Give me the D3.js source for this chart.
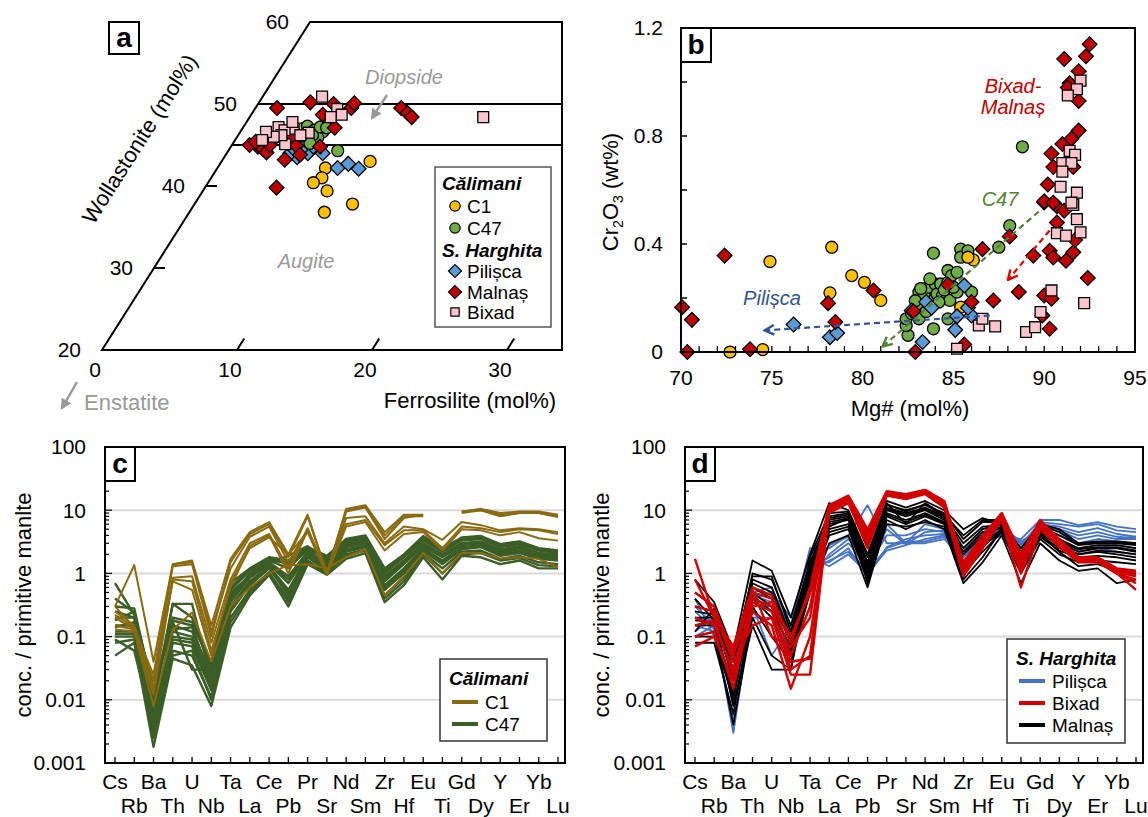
<!DOCTYPE html>
<html>
<head>
<meta charset="utf-8">
<script src="https://cdn.jsdelivr.net/npm/d3@7"></script>
<style>
body { margin: 0; background: #fff; }
text { font-family: "Liberation Sans", Arial, Helvetica, sans-serif; }
</style>
</head>
<body>
<script>
// ---------- data ----------
// panel a: pyroxene quadrilateral, [Fs, Wo] in mol%
var aC1 = [[11.0,43.0],[8.0,42.2],[8.2,41.0],[7.8,40.4],[9.2,39.4],[11.7,37.8],[10.0,36.8],[4.5,47.0],[5.8,45.3]];
var aC47 = [[6.1,46.6],[8.1,44.3],[4.7,47.3],[5.4,46.8],[6.0,45.9],[5.5,46.2],[4.8,46.1],[5.7,47.2],[6.2,47.1],[5.7,45.2]];
var aPil = [[5.4,45.1],[5.4,43.5],[6.0,44.0],[7.1,44.0],[8.9,42.2],[9.5,42.7],[10.5,42.1],[4.7,44.0],[5.3,44.4],[4.7,44.6],[6.1,44.8]];
var aMal = [[1.6,49.5],[3.8,50.2],[5.3,48.7],[5.6,50.0],[7.1,49.5],[7.1,50.1],[10.8,49.5],[11.5,48.9],[12.0,48.4],[6.8,47.1],
  [6.6,44.8],[4.6,43.2],[2.0,44.8],[2.4,44.6],[2.9,44.1],[5.3,39.8],[2.8,45.6],[1.3,45.0],[1.6,45.4],[2.8,45.0],[4.0,45.9],[4.8,44.9],[5.5,43.8]];
var aBix = [[4.4,50.9],[6.1,49.4],[6.7,48.7],[6.0,48.4],[3.8,47.0],[5.1,46.5],[3.9,45.1],[17.3,48.4],[2.6,47.2],[3.2,46.8],
  [3.2,46.2],[2.7,46.0],[1.9,46.6],[4.6,46.2],[2.0,45.6],[3.4,47.8]];

// panel b: [Mg#, Cr2O3]
var bC1 = [[72.7,0],[74.5,0.009],[74.9,0.335],[78.3,0.388],[78.2,0.219],[79.4,0.283],[80.1,0.258],[81.0,0.191],[85.4,0.166],[86.1,0.341],[85.8,0.351]];
var bC47 = [[82.5,0.062],[82.4,0.098],[82.4,0.123],[82.7,0.142],[83.1,0.123],[83.3,0.166],[83.1,0.222],[83.4,0.209],[83.6,0.24],[83.9,0.191],
  [84.0,0.252],[83.9,0.366],[83.9,0.086],[84.1,0.215],[84.3,0.252],[84.4,0.209],[84.7,0.258],[84.7,0.302],[84.8,0.191],[84.9,0.283],
  [85.2,0.295],[85.2,0.222],[84.7,0.123],[85.4,0.381],[85.4,0.351],[85.8,0.375],[86.0,0.222],[87.5,0.388],[88.1,0.468],[83.7,0.271],
  [88.8,0.76],[83.2,0.235],[84.5,0.23],[85.0,0.24],[84.2,0.185],[83.5,0.15],[82.9,0.19]];
var bPil = [[76.2,0.102],[78.2,0.055],[78.6,0.07],[83.3,0.037],[82.7,0.154],[83.5,0.185],[83.8,0.164],[85.2,0.132],[85.1,0.082],[85.6,0.246],[86.0,0.135],[85.8,0.164]];
var bMal = [[70.06,0.166],[70.6,0.119],[70.35,0],[72.4,0.357],[73.8,0.01],[78.1,0.181],[78.5,0.111],[80.6,0.228],[82.9,0],[82.8,0.151],
  [84.7,0.25],[86.0,0.185],[85.6,0.028],[86.6,0.381],[87.2,0.191],[88.1,0.428],[88.6,0.222],[89.4,0.357],[90.0,0.209],[89.9,0.135],
  [90.4,0.197],[90.3,0.086],[90.3,0.375],[90.5,0.35],[91.2,0.338],[91.6,0.369],[91.7,0.415],[92.4,0.274],[90.0,0.554],[90.7,0.54],
  [91.1,0.523],[90.7,0.48],[92.5,1.14],[92.3,1.095],[91.1,1.085],[91.9,1.04],[91.4,0.995],[91.3,0.98],[91.9,0.93],[91.9,0.82],
  [91.0,0.77],[91.5,0.79],[90.4,0.735],[90.5,0.685],[91.6,0.685],[90.2,0.62],[90.0,0.558],[90.5,0.553]];
var bBix = [[85.2,0.012],[86.4,0.098],[86.6,0.123],[87.3,0.095],[89.0,0.074],[89.5,0.092],[89.8,0.148],[90.4,0.228],[92.2,0.181],[90.7,0.44],
  [91.2,0.431],[92.0,0.443],[91.8,0.492],[91.6,0.545],[92.0,1.005],[91.8,0.973],[91.3,0.95],[91.4,0.745],[91.7,0.73],[91.0,0.7],
  [91.5,0.7],[91.0,0.668],[90.9,0.612],[91.8,0.59],[91.5,0.553]];

// panels c, d: primitive-mantle normalised trace elements
var elements = ["Cs","Rb","Ba","Th","U","Nb","Ta","La","Ce","Pb","Pr","Sr","Nd","Sm","Zr","Hf","Eu","Ti","Gd","Dy","Y","Er","Yb","Lu"];
var logTicks = [0.001, 0.01, 0.1, 1, 10, 100];

var c1 = [
  [0.3,1.35,0.04,1.4,1.6,0.15,1.7,4.5,6.5,2.0,8.5,1.0,10.5,12,4.5,8.5,8.5,null,9.5,10.5,9,9.5,9.5,8.5],
  [0.25,0.15,0.02,1.4,1.5,0.12,1.2,3.8,5.5,1.5,5.0,1.0,9.5,11,3.5,7.5,8.5,null,9.5,10,8,9,9,8],
  [0.15,0.13,0.025,1.3,1.4,0.1,1.5,4.2,6.0,1.8,8.0,1.0,9.8,11.5,4.0,8.0,8.0,null,9.0,10,8.5,9,9,7.8],
  [0.22,0.14,0.015,0.85,0.9,0.08,0.8,3.0,4.2,1.2,5.2,1.0,7.5,8,3.0,5.5,5.0,3.4,6.5,5.8,4.8,5.2,5.0,4.5],
  [0.2,0.13,0.012,0.8,0.75,0.06,0.6,2.7,4.0,1.0,4.8,1.0,6,7,2.8,4.8,4.8,2.5,5.5,5.2,4.5,5,4.8,4.2],
  [0.3,0.14,0.02,0.75,0.55,0.05,0.7,2.5,3.7,2.0,4.5,0.95,5.5,6.5,2.3,4.2,4.5,2.3,5,4.8,4.0,4.5,3.6,3.3],
  [0.13,0.12,0.008,0.13,0.24,0.04,0.3,0.6,1.0,1.35,1.4,1.2,1.8,2.4,0.45,0.9,2.1,1.0,2.1,2.1,1.7,1.8,1.7,1.25]
];
var c47 = [
  [0.7,0.22,0.008,0.33,0.2,0.03,0.7,1.2,1.8,1.6,2.6,1.9,3.5,4.0,1.2,2.0,3.9,2.5,3.7,3.9,2.9,3.2,2.5,2.3],
  [0.3,0.28,0.012,0.18,0.15,0.04,0.55,1.1,1.6,1.2,2.4,1.7,3.1,3.6,1.0,1.8,3.3,2.2,3.3,3.5,2.6,2.9,2.3,2.1],
  [0.2,0.2,0.006,0.15,0.12,0.025,0.45,0.95,1.5,0.9,2.2,1.5,2.9,3.3,0.9,1.6,3.0,2.0,3.0,3.2,2.4,2.7,2.1,2.0],
  [0.15,0.15,0.005,0.12,0.1,0.02,0.35,0.85,1.4,0.7,2.0,1.3,2.6,3.0,0.75,1.4,2.7,1.8,2.8,3.0,2.2,2.5,2.0,1.9],
  [0.12,0.12,0.004,0.1,0.09,0.018,0.3,0.75,1.3,0.55,1.9,1.2,2.4,2.8,0.65,1.2,2.5,1.6,2.6,2.8,2.1,2.3,1.9,1.8],
  [0.1,0.1,0.003,0.08,0.07,0.014,0.25,0.65,1.2,0.45,1.8,1.1,2.2,2.6,0.55,1.0,2.3,1.4,2.4,2.6,1.9,2.1,1.7,1.6],
  [0.08,0.09,0.0025,0.06,0.05,0.011,0.2,0.55,1.05,0.35,1.6,1.0,2.0,2.4,0.45,0.85,2.1,1.2,2.2,2.3,1.7,1.9,1.5,1.4],
  [0.05,0.08,0.0018,0.045,0.035,0.008,0.14,0.45,0.95,0.3,1.4,0.95,1.7,2.1,0.35,0.65,1.8,0.8,1.9,1.8,1.4,1.6,1.2,1.2],
  [0.18,0.25,0.01,0.33,0.33,0.02,0.4,1.0,1.6,1.5,2.3,1.8,3.3,3.8,1.1,1.9,3.5,2.3,3.5,3.7,2.8,3.0,2.4,2.2],
  [0.25,0.2,0.015,0.17,0.03,0.03,0.5,0.9,1.5,1.9,2.7,1.6,3.0,3.5,0.8,1.5,2.8,1.9,2.9,3.1,2.3,2.6,2.0,1.9],
  [0.09,0.06,0.0035,0.05,0.06,0.01,0.17,0.5,1.0,0.4,1.5,1.05,1.9,2.3,0.4,0.75,2.0,1.0,2.0,2.1,1.6,1.75,1.35,1.3],
  [0.14,0.17,0.007,0.13,0.14,0.022,0.4,0.9,1.45,0.8,2.1,1.4,2.75,3.15,0.85,1.5,2.85,1.9,2.9,3.1,2.3,2.6,2.05,1.95],
  [0.11,0.11,0.0045,0.09,0.08,0.016,0.28,0.7,1.25,0.5,1.85,1.15,2.3,2.7,0.6,1.1,2.4,1.5,2.5,2.7,2.0,2.2,1.8,1.7],
  [0.4,0.24,0.015,0.2,0.17,0.035,0.6,1.15,1.7,1.4,2.5,1.8,3.3,3.8,1.1,1.9,3.6,2.4,3.5,3.7,2.75,3.05,2.4,2.2]
];
var pil = [
  [0.3,0.15,0.003,0.3,0.05,0.15,2.5,2.5,4,12,3,3,3,3.5,1.6,3,4,3.5,7,7,5.8,6.5,5.5,5],
  [0.15,0.12,0.005,0.4,0.5,0.2,1.8,1.3,2,1.0,2.3,2.8,3.5,4,1.8,3.5,4.5,2.5,6,5.5,4.5,5.2,4.2,3.8],
  [0.12,0.2,0.008,0.5,0.6,0.12,1.5,1.5,2.5,0.9,2.6,3.5,4,4.2,2.0,4,5,3.0,5.5,4.8,3.5,4.0,3.5,3.5],
  [0.2,0.18,0.01,0.3,0.3,0.05,1.2,1.8,3,1.3,4,4,5,4.5,2.2,4.5,5.5,3.2,5,4,3,3.5,3.2,3],
  [0.4,0.1,0.02,0.6,0.4,0.1,0.8,2,3.5,1.5,6,3,6,5,2.5,5,6,2.8,6.5,6,5.5,6,4.8,4.5],
  [0.1,0.15,0.04,0.2,0.2,0.04,0.6,2.8,3.8,1.2,5,2.9,4.5,4.8,1.5,3.5,4,2.0,5.2,3.5,2.2,2.5,2.2,2.0],
  [0.25,0.13,0.015,0.45,0.35,0.08,1.0,1.6,2.2,1.1,2.5,3.2,3.2,3.8,1.9,3.8,4.8,2.6,5.8,5.0,4.0,4.5,3.8,3.6]
];
var mal = [
  [0.8,0.35,0.06,1.6,1.1,0.2,2.0,13,10,2.0,14,11,14,10,5,7.5,6,2.5,6,5,3,3.2,3.2,3],
  [0.5,0.3,0.04,1.0,0.8,0.15,1.5,8,9,1.5,12,10,12,9,3.5,6.5,6.5,2.0,5.5,4,2.8,3,3,2.8],
  [0.3,0.25,0.03,0.8,0.6,0.1,1.2,7,8,1.2,11,9,11,8,2.5,5,6,1.8,5,3.5,2.5,2.8,2.8,2.5],
  [0.2,0.2,0.02,0.6,0.4,0.08,1.0,6,7,1.0,10,8,10,7,2.0,4,5.5,1.5,4.5,3,2.2,2.5,2.5,2.2],
  [0.15,0.15,0.015,0.5,0.3,0.06,0.8,5,6,0.9,9,7,9,6.5,1.5,3,5,1.2,4,2.5,2,2.2,2.0,1.8],
  [0.1,0.1,0.01,0.4,0.2,0.05,0.6,4,5,0.8,8,6,8,6,1.0,2.2,4.5,1.0,3.5,2,1.5,1.6,1.5,1.4],
  [0.08,0.08,0.006,0.3,0.1,0.04,0.5,3,4,0.6,7,5,7,5,0.7,1.5,4,0.7,3,1.6,1.1,1.2,0.7,0.8],
  [0.1,0.12,0.004,0.2,0.05,0.03,0.9,5.5,7.5,0.7,6,5.5,6.5,5.5,0.8,1.8,5,1.4,4.2,2.2,1.3,1.4,1.1,1.0],
  [0.4,0.18,0.008,0.15,0.03,0.03,1.8,9,9.5,1.8,13,6,13,8.5,4,7,7,2.2,5.8,4.5,2.9,3.1,3.1,2.9],
  [0.12,0.28,0.05,0.9,0.9,0.12,1.3,7.5,8.5,1.4,12.5,9.5,12.5,8,3,5.5,5.8,1.6,4.8,3.2,2.4,2.6,2.6,2.3],
  [0.25,0.22,0.025,0.7,0.5,0.09,1.1,6.5,7.5,1.1,10.5,8.5,10.5,7.5,2.2,4.5,5.2,1.3,4.3,2.8,2.0,2.3,2.2,2.0],
  [0.18,0.17,0.012,0.45,0.25,0.07,0.7,4.5,5.5,0.85,8.5,6.5,8.5,6.2,1.2,2.6,4.8,1.1,3.8,2.3,1.8,1.9,1.8,1.6]
];
var bix = [
  [1.7,0.2,0.07,0.6,0.45,0.08,0.6,12,17,5,20,18,21,14,1.5,4,9,2.0,7,3.5,1.8,1.8,1.2,1.1],
  [0.5,0.3,0.05,0.5,0.4,0.05,0.3,11,16,4,19,17,20,13,1.3,3.5,8.5,1.5,6.5,3.2,1.7,1.7,1.1,1.0],
  [0.2,0.15,0.03,0.4,0.3,0.03,0.05,10,15,3,18,16,19,12,1.1,3,8,1.2,6,3,1.6,1.6,1.05,0.9],
  [0.07,0.1,0.02,0.25,0.15,0.015,0.1,9,13,2.5,17,15,18,11,0.9,2.5,7,0.6,5,2.6,1.5,1.5,1.0,0.55],
  [0.3,0.25,0.04,0.15,0.2,0.025,0.025,10.5,14,3.5,18.5,16.5,19.5,12.5,1.0,2.8,7.5,1.0,5.8,2.8,1.55,1.55,1.0,0.8],
  [0.1,0.12,0.015,0.35,0.25,0.04,0.045,9.5,14.5,2.8,17.5,15.5,18.5,11.5,1.2,3.2,8.2,1.4,6.2,3.1,1.65,1.65,1.1,0.95],
  [0.8,0.2,0.06,0.55,0.1,0.07,0.2,11.5,16.5,4.5,19.5,17.5,20.5,13.5,1.4,3.8,8.8,1.8,6.8,3.3,1.75,1.75,1.15,1.05],
  [0.15,0.18,0.025,0.3,0.35,0.1,0.5,10,15.5,3.2,18,16,19,12,1.2,3.1,7.8,1.1,5.5,2.9,1.6,1.6,1.0,0.7]
];

// ---------- setup ----------
var cYel = "#FFC000", cGrn = "#70AD47", cBlu = "#5B9BD5", cRed = "#C00000", cPnk = "#FAC5CB";
var fsTick = 21, fsTitle = 22, fsLeg = 19;
var svg = d3.select("body").append("svg").attr("width", 1148).attr("height", 817);

var defs = svg.append("defs");
function openHead(id, col) {
  defs.append("marker").attr("id", id).attr("viewBox", "0 0 10 10").attr("refX", 9).attr("refY", 5)
    .attr("markerWidth", 12).attr("markerHeight", 12).attr("markerUnits", "userSpaceOnUse").attr("orient", "auto")
    .append("path").attr("d", "M1,1 L9,5 L1,9").attr("fill", "none").attr("stroke", col).attr("stroke-width", 2);
}
openHead("hBlu", "#2F5597"); openHead("hGrn", "#548235"); openHead("hRed", "#E00000");
defs.append("marker").attr("id", "hGray").attr("viewBox", "0 0 10 10").attr("refX", 8).attr("refY", 5)
  .attr("markerWidth", 11).attr("markerHeight", 11).attr("markerUnits", "userSpaceOnUse").attr("orient", "auto")
  .append("path").attr("d", "M0,0 L10,5 L0,10 Z").attr("fill", "#999");

var sym = {
  circle: d3.symbol().type(d3.symbolCircle).size(112)(),
  diamond: d3.symbol().type(d3.symbolSquare).size(108)(),
  square: d3.symbol().type(d3.symbolSquare).size(118)()
};
function points(g, data, shape, fill, proj) {
  g.selectAll(null).data(data).enter().append("path")
    .attr("d", sym[shape])
    .attr("transform", function(d) {
      var p = proj(d);
      return "translate(" + p[0] + "," + p[1] + ")" + (shape == "diamond" ? " rotate(45)" : "");
    })
    .attr("fill", fill).attr("stroke", "#000").attr("stroke-width", 1.3);
}
function letterBox(g, x, y, w, h, t) {
  g.append("rect").attr("x", x).attr("y", y).attr("width", w).attr("height", h)
    .attr("fill", "#fff").attr("stroke", "#000").attr("stroke-width", 2);
  g.append("text").attr("x", x + w / 2).attr("y", y + h / 2 + 9).attr("text-anchor", "middle")
    .attr("font-size", 28).attr("font-weight", "bold").text(t);
}

// ---------- panel a ----------
var ga = svg.append("g");
var woY = d3.scaleLinear().domain([20, 60]).range([350, 22]);
var woShift = d3.scaleLinear().domain([20, 60]).range([0, 208]);
var fsX = d3.scaleLinear().domain([0, 30]).range([102, 507]);
var aRight = 562;
function tern(d) { return [fsX(d[0]) + woShift(d[1]), woY(d[1])]; }

var c0 = tern([0, 20]), c1p = tern([0, 60]);
ga.append("path").attr("d", "M" + c0 + "L" + c1p + "L" + aRight + "," + woY(60) + "L" + aRight + "," + woY(20) + "Z")
  .attr("fill", "none").attr("stroke", "#000").attr("stroke-width", 2);
[45, 50].forEach(function(w) {
  ga.append("line").attr("x1", tern([0, w])[0]).attr("y1", woY(w)).attr("x2", aRight).attr("y2", woY(w))
    .attr("stroke", "#000").attr("stroke-width", 1.8);
});
[30, 40].forEach(function(w) {
  ga.append("line").attr("x1", tern([0, w])[0]).attr("y1", woY(w)).attr("x2", tern([0, w])[0] + 11).attr("y2", woY(w))
    .attr("stroke", "#000").attr("stroke-width", 2);
});
[20, 30, 40, 50, 60].forEach(function(w) {
  ga.append("text").attr("x", tern([0, w])[0] - 21).attr("y", woY(w)).attr("dy", "0.35em")
    .attr("text-anchor", "end").attr("font-size", fsTick).text(w);
});
[10, 20, 30].forEach(function(f) {
  var p0 = tern([f, 20]), p1 = tern([f, 21.4]);
  ga.append("line").attr("x1", p0[0]).attr("y1", p0[1]).attr("x2", p1[0]).attr("y2", p1[1])
    .attr("stroke", "#000").attr("stroke-width", 2);
});
[0, 10, 20, 30].forEach(function(f) {
  ga.append("text").attr("x", tern([f, 20])[0] - 7).attr("y", 370).attr("dy", "0.35em")
    .attr("text-anchor", "middle").attr("font-size", fsTick).text(f);
});
ga.append("text").attr("transform", "translate(146,143) rotate(-57.6)").attr("text-anchor", "middle")
  .attr("font-size", fsTitle).text("Wollastonite (mol%)");
ga.append("text").attr("x", 470).attr("y", 400).attr("dy", "0.35em").attr("text-anchor", "middle")
  .attr("font-size", fsTitle).text("Ferrosilite (mol%)");
ga.append("text").attr("x", 84).attr("y", 402).attr("dy", "0.35em").attr("font-size", fsTitle).attr("fill", "#999").text("Enstatite");
ga.append("line").attr("x1", 77).attr("y1", 382).attr("x2", 62).attr("y2", 408)
  .attr("stroke", "#999").attr("stroke-width", 2.5).attr("marker-end", "url(#hGray)");
ga.append("text").attr("x", 404).attr("y", 77).attr("dy", "0.35em").attr("text-anchor", "middle")
  .attr("font-size", 20).attr("font-style", "italic").attr("fill", "#999").text("Diopside");
ga.append("line").attr("x1", 387).attr("y1", 95).attr("x2", 372).attr("y2", 118)
  .attr("stroke", "#999").attr("stroke-width", 2.5).attr("marker-end", "url(#hGray)");
ga.append("text").attr("x", 306).attr("y", 261).attr("dy", "0.35em").attr("text-anchor", "middle")
  .attr("font-size", 20).attr("font-style", "italic").attr("fill", "#999").text("Augite");

points(ga, aC1, "circle", cYel, tern);
points(ga, aPil, "diamond", cBlu, tern);
points(ga, aC47, "circle", cGrn, tern);
points(ga, aMal, "diamond", cRed, tern);
points(ga, aBix, "square", cPnk, tern);

letterBox(ga, 109, 22, 30, 32, "a");

// legend a
var la = ga.append("g");
la.append("rect").attr("x", 435).attr("y", 167).attr("width", 116).attr("height", 160)
  .attr("fill", "#fff").attr("stroke", "#555").attr("stroke-width", 1.5);
var legA = [
  {t: "C\u0103limani", y: 183, title: true},
  {t: "C1", y: 206, shape: "circle", fill: cYel},
  {t: "C47", y: 228, shape: "circle", fill: cGrn},
  {t: "S. Harghita", y: 250, title: true},
  {t: "Pili\u0219ca", y: 271, shape: "diamond", fill: cBlu},
  {t: "Malna\u0219", y: 292, shape: "diamond", fill: cRed},
  {t: "Bixad", y: 312, shape: "square", fill: cPnk}
];
legA.forEach(function(d) {
  if (d.title) {
    la.append("text").attr("x", 442).attr("y", d.y).attr("dy", "0.35em").attr("font-size", fsLeg)
      .attr("font-weight", "bold").attr("font-style", "italic").text(d.t);
  } else {
    la.append("path").attr("d", d3.symbol().type(d.shape == "circle" ? d3.symbolCircle : d3.symbolSquare)
        .size(d.shape == "square" ? 70 : 85)())
      .attr("transform", "translate(455," + d.y + ")" + (d.shape == "diamond" ? " rotate(45)" : ""))
      .attr("fill", d.fill).attr("stroke", "#000").attr("stroke-width", 1.2);
    la.append("text").attr("x", 467).attr("y", d.y).attr("dy", "0.35em").attr("font-size", fsLeg).text(d.t);
  }
});

// ---------- panel b ----------
var gb = svg.append("g");
var xB = d3.scaleLinear().domain([70, 95]).range([681, 1135]);
var yB = d3.scaleLinear().domain([0, 1.2]).range([352, 28]);
function pb(d) { return [xB(d[0]), yB(d[1])]; }

d3.range(0, 1.21, 0.2).forEach(function(v) {
  gb.append("line").attr("x1", 681).attr("x2", 687).attr("y1", yB(v)).attr("y2", yB(v)).attr("stroke", "#000").attr("stroke-width", 1.5);
});
[0, 0.4, 0.8, 1.2].forEach(function(v) {
  gb.append("text").attr("x", 663).attr("y", yB(v)).attr("dy", "0.35em").attr("text-anchor", "end")
    .attr("font-size", fsTick).text(v == 0 ? "0" : v.toFixed(1));
});
d3.range(70, 96, 1).forEach(function(v) {
  gb.append("line").attr("x1", xB(v)).attr("x2", xB(v)).attr("y1", 352).attr("y2", 346).attr("stroke", "#000").attr("stroke-width", 1.3);
});
[70, 75, 80, 85, 90, 95].forEach(function(v) {
  gb.append("text").attr("x", xB(v)).attr("y", 378).attr("dy", "0.35em").attr("text-anchor", "middle")
    .attr("font-size", fsTick).text(v);
});
gb.append("text").attr("x", 910).attr("y", 408).attr("dy", "0.35em").attr("text-anchor", "middle")
  .attr("font-size", fsTitle).text("Mg# (mol%)");
var yl = gb.append("text").attr("transform", "translate(618,192) rotate(-90)").attr("text-anchor", "middle").attr("font-size", fsTitle);
yl.append("tspan").text("Cr");
yl.append("tspan").attr("font-size", 14).attr("dy", 5).text("2");
yl.append("tspan").attr("dy", -5).text("O");
yl.append("tspan").attr("font-size", 14).attr("dy", 5).text("3");
yl.append("tspan").attr("dy", -5).text(" (wt%)");

// trend arrows
function arrow(a, b, col, head) {
  gb.append("line").attr("x1", xB(a[0])).attr("y1", yB(a[1])).attr("x2", xB(b[0])).attr("y2", yB(b[1]))
    .attr("stroke", col).attr("stroke-width", 2.2).attr("stroke-dasharray", "6,4").attr("marker-end", "url(#" + head + ")");
}

points(gb, bC47, "circle", cGrn, pb);
points(gb, bC1, "circle", cYel, pb);
points(gb, bPil, "diamond", cBlu, pb);
points(gb, bMal, "diamond", cRed, pb);
points(gb, bBix, "square", cPnk, pb);

arrow([87.0, 0.135], [74.6, 0.08], "#2F5597", "hBlu");
arrow([89.7, 0.52], [81.1, 0.02], "#548235", "hGrn");
arrow([90.3, 0.45], [88.0, 0.267], "#E00000", "hRed");

gb.append("text").attr("x", 772).attr("y", 298).attr("dy", "0.35em").attr("text-anchor", "middle")
  .attr("font-size", 20).attr("font-style", "italic").attr("fill", "#2F5597").text("Pili\u0219ca");
gb.append("text").attr("x", 1000).attr("y", 199).attr("dy", "0.35em").attr("text-anchor", "middle")
  .attr("font-size", 20).attr("font-style", "italic").attr("fill", "#548235").text("C47");
gb.append("text").attr("x", 1013).attr("y", 86).attr("dy", "0.35em").attr("text-anchor", "middle")
  .attr("font-size", 20).attr("font-style", "italic").attr("fill", cRed).text("Bixad-");
gb.append("text").attr("x", 1013).attr("y", 107).attr("dy", "0.35em").attr("text-anchor", "middle")
  .attr("font-size", 20).attr("font-style", "italic").attr("fill", cRed).text("Malna\u0219");

gb.append("rect").attr("x", 681).attr("y", 28).attr("width", 454).attr("height", 324)
  .attr("fill", "none").attr("stroke", "#000").attr("stroke-width", 2);
letterBox(gb, 681, 28, 30, 34, "b");

// ---------- panels c, d ----------
var ySp = d3.scaleLog().domain([0.001, 100]).range([763, 447]);

function spider(left, right, letter, ylab, ylabX, groups, legend) {
  var g = svg.append("g");
  var x = d3.scalePoint().domain(elements).range([left + 10, right - 7]);
  [0.01, 0.1, 1, 10].forEach(function(v) {
    g.append("line").attr("x1", left).attr("x2", right).attr("y1", ySp(v)).attr("y2", ySp(v))
      .attr("stroke", "#D9D9D9").attr("stroke-width", 2);
  });
  var line = d3.line().defined(function(d) { return d != null; })
    .x(function(d, i) { return x(elements[i]); }).y(function(d) { return ySp(d); });
  groups.forEach(function(gr) {
    g.append("g").selectAll("path").data(gr.data).enter().append("path")
      .attr("d", line).attr("fill", "none").attr("stroke", gr.color).attr("stroke-width", gr.w)
      .attr("stroke-linejoin", "round");
  });
  // log ticks
  [0.001, 0.01, 0.1, 1, 10].forEach(function(dec) {
    d3.range(1, 10).forEach(function(k) {
      var v = dec * k;
      g.append("line").attr("x1", left).attr("x2", left + (k == 1 ? 7 : 4)).attr("y1", ySp(v)).attr("y2", ySp(v))
        .attr("stroke", "#000").attr("stroke-width", 1.2);
    });
  });
  logTicks.forEach(function(v) {
    g.append("text").attr("x", left - 19).attr("y", ySp(v)).attr("dy", "0.35em").attr("text-anchor", "end")
      .attr("font-size", fsTick).text(d3.format("~g")(v));
  });
  elements.forEach(function(el, i) {
    g.append("line").attr("x1", x(el)).attr("x2", x(el)).attr("y1", 763).attr("y2", 757)
      .attr("stroke", "#000").attr("stroke-width", 1.3);
    g.append("text").attr("x", x(el)).attr("y", i % 2 == 0 ? 782 : 806).attr("dy", "0.35em")
      .attr("text-anchor", "middle").attr("font-size", fsTick).text(el);
  });
  g.append("text").attr("transform", "translate(" + ylabX + ",605) rotate(-90)").attr("text-anchor", "middle")
    .attr("dy", "0.35em").attr("font-size", fsTitle).text(ylab);
  g.append("rect").attr("x", left).attr("y", 447).attr("width", right - left).attr("height", 316)
    .attr("fill", "none").attr("stroke", "#000").attr("stroke-width", 2);
  letterBox(g, left, 447, 30, 34, letter);

  // legend
  g.append("rect").attr("x", legend.x).attr("y", legend.y).attr("width", legend.w).attr("height", legend.h)
    .attr("fill", "#fff").attr("stroke", "#333").attr("stroke-width", 1.5);
  g.append("text").attr("x", legend.x + 9).attr("y", legend.y + 19).attr("dy", "0.35em").attr("font-size", fsLeg)
    .attr("font-weight", "bold").attr("font-style", "italic").text(legend.title);
  legend.items.forEach(function(it, i) {
    var yy = legend.y + legend.first + i * 22;
    g.append("line").attr("x1", legend.x + 12).attr("x2", legend.x + 38).attr("y1", yy).attr("y2", yy)
      .attr("stroke", it.color).attr("stroke-width", 4);
    g.append("text").attr("x", legend.x + 45).attr("y", yy).attr("dy", "0.35em").attr("font-size", fsLeg).text(it.t);
  });
}

spider(105, 565, "c", "conc. / primitive manlte", 23,
  [{data: c47, color: "#3A5E25", w: 2.4}, {data: c1, color: "#8A6A10", w: 2}],
  {x: 440, y: 659, w: 107, h: 82, title: "C\u0103limani", first: 43,
   items: [{t: "C1", color: "#8A6A10"}, {t: "C47", color: "#3A5E25"}]});

spider(685, 1143, "d", "conc. / primitive mantle", 601,
  [{data: pil, color: "#4472C4", w: 1.8}, {data: mal, color: "#000", w: 1.8}, {data: bix, color: "#D00000", w: 2.4}],
  {x: 1007, y: 639, w: 118, h: 104, title: "S. Harghita", first: 42,
   items: [{t: "Pili\u0219ca", color: "#4472C4"}, {t: "Bixad", color: "#D00000"}, {t: "Malna\u0219", color: "#000"}]});
</script>
</body>
</html>
